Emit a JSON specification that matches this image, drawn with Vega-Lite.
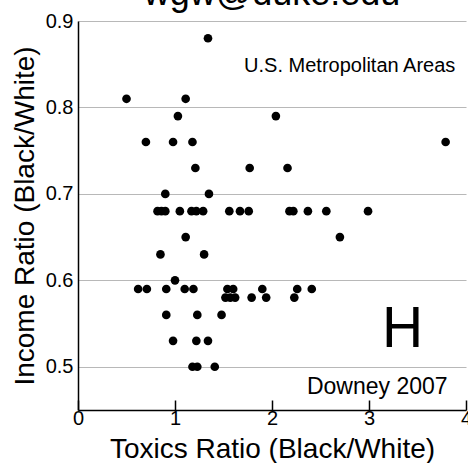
{
  "$schema": "https://vega.github.io/schema/vega-lite/v6.json",
  "width": 388,
  "height": 389,
  "autosize": {"type": "none"},
  "padding": {"left": 78, "top": 21, "right": 2, "bottom": 53},
  "background": "white",
  "title": {"text": "wgw@duke.edu", "fontSize": 36, "font": "Liberation Sans", "fontWeight": "normal", "color": "black", "anchor": "middle", "baseline": "alphabetic", "offset": -30},
  "config": {
    "view": {"stroke": null},
    "font": "Liberation Sans",
    "axis": {"labelFont": "Liberation Sans", "titleFont": "Liberation Sans", "labelColor": "black", "titleColor": "black", "titleFontWeight": "normal", "domainColor": "black", "domainWidth": 1.5, "tickColor": "black"}
  },
  "datasets": {
    "pts": [
      {"toxics": 0.50, "income": 0.81}, {"toxics": 1.11, "income": 0.81}, {"toxics": 1.34, "income": 0.88},
      {"toxics": 1.03, "income": 0.79}, {"toxics": 2.04, "income": 0.79}, {"toxics": 3.79, "income": 0.76},
      {"toxics": 0.70, "income": 0.76}, {"toxics": 0.98, "income": 0.76}, {"toxics": 1.18, "income": 0.76},
      {"toxics": 1.21, "income": 0.73}, {"toxics": 1.77, "income": 0.73}, {"toxics": 2.16, "income": 0.73},
      {"toxics": 0.90, "income": 0.70}, {"toxics": 1.35, "income": 0.70},
      {"toxics": 0.82, "income": 0.68}, {"toxics": 0.86, "income": 0.68}, {"toxics": 0.90, "income": 0.68},
      {"toxics": 1.05, "income": 0.68}, {"toxics": 1.17, "income": 0.68}, {"toxics": 1.22, "income": 0.68},
      {"toxics": 1.29, "income": 0.68}, {"toxics": 1.56, "income": 0.68}, {"toxics": 1.67, "income": 0.68},
      {"toxics": 1.76, "income": 0.68}, {"toxics": 2.18, "income": 0.68}, {"toxics": 2.22, "income": 0.68},
      {"toxics": 2.37, "income": 0.68}, {"toxics": 2.56, "income": 0.68}, {"toxics": 2.99, "income": 0.68},
      {"toxics": 1.11, "income": 0.65}, {"toxics": 2.70, "income": 0.65},
      {"toxics": 0.85, "income": 0.63}, {"toxics": 1.30, "income": 0.63},
      {"toxics": 1.00, "income": 0.60},
      {"toxics": 0.62, "income": 0.59}, {"toxics": 0.71, "income": 0.59}, {"toxics": 0.91, "income": 0.59},
      {"toxics": 1.10, "income": 0.59}, {"toxics": 1.19, "income": 0.59}, {"toxics": 1.54, "income": 0.59},
      {"toxics": 1.60, "income": 0.59}, {"toxics": 1.90, "income": 0.59}, {"toxics": 2.26, "income": 0.59},
      {"toxics": 2.41, "income": 0.59},
      {"toxics": 1.52, "income": 0.58}, {"toxics": 1.57, "income": 0.58}, {"toxics": 1.62, "income": 0.58},
      {"toxics": 1.79, "income": 0.58}, {"toxics": 1.94, "income": 0.58}, {"toxics": 2.23, "income": 0.58},
      {"toxics": 0.91, "income": 0.56}, {"toxics": 1.23, "income": 0.56}, {"toxics": 1.48, "income": 0.56},
      {"toxics": 0.98, "income": 0.53}, {"toxics": 1.22, "income": 0.53}, {"toxics": 1.34, "income": 0.53},
      {"toxics": 1.18, "income": 0.50}, {"toxics": 1.23, "income": 0.50}, {"toxics": 1.41, "income": 0.50}
    ],
    "notes": [
      {"toxics": 3.89, "income": 0.8415, "label": "U.S. Metropolitan Areas", "kind": "sub"},
      {"toxics": 3.81, "income": 0.469, "label": "Downey 2007", "kind": "cite"},
      {"toxics": 3.345, "income": 0.523, "label": "H", "kind": "panel"}
    ]
  },
  "layer": [
    {
      "data": {"name": "pts"},
      "mark": {"type": "circle", "color": "black", "opacity": 1, "size": 75},
      "encoding": {
        "x": {"field": "toxics", "type": "quantitative", "scale": {"domain": [0, 4], "nice": false},
          "axis": {"values": [0, 1, 2, 3, 4], "format": "d", "grid": false, "tickSize": -10, "tickWidth": 1.5, "labelFontSize": 20, "labelPadding": 8, "title": "Toxics Ratio (Black/White)", "titleFontSize": 28, "titlePadding": 7, "labelFlush": false, "labelOverlap": false}},
        "y": {"field": "income", "type": "quantitative", "scale": {"domain": [0.45, 0.9], "nice": false, "zero": false},
          "axis": {"values": [0.5, 0.6, 0.7, 0.8, 0.9], "format": ".1f", "grid": true, "gridColor": "#b8b8b8", "gridWidth": 1.2, "ticks": false, "labelFontSize": 20, "labelPadding": 5, "title": "Income Ratio (Black/White)", "titleFontSize": 28, "titlePadding": 6, "labelFlush": false, "labelOverlap": false}}
      }
    },
    {
      "data": {"name": "notes"},
      "transform": [{"filter": "datum.kind == 'sub'"}],
      "mark": {"type": "text", "align": "right", "baseline": "alphabetic", "fontSize": 20, "color": "black"},
      "encoding": {"x": {"field": "toxics", "type": "quantitative"}, "y": {"field": "income", "type": "quantitative"}, "text": {"field": "label"}}
    },
    {
      "data": {"name": "notes"},
      "transform": [{"filter": "datum.kind == 'cite'"}],
      "mark": {"type": "text", "align": "right", "baseline": "alphabetic", "fontSize": 23, "color": "black"},
      "encoding": {"x": {"field": "toxics", "type": "quantitative"}, "y": {"field": "income", "type": "quantitative"}, "text": {"field": "label"}}
    },
    {
      "data": {"name": "notes"},
      "transform": [{"filter": "datum.kind == 'panel'"}],
      "mark": {"type": "text", "align": "center", "baseline": "alphabetic", "fontSize": 57, "color": "black"},
      "encoding": {"x": {"field": "toxics", "type": "quantitative"}, "y": {"field": "income", "type": "quantitative"}, "text": {"field": "label"}}
    }
  ]
}
